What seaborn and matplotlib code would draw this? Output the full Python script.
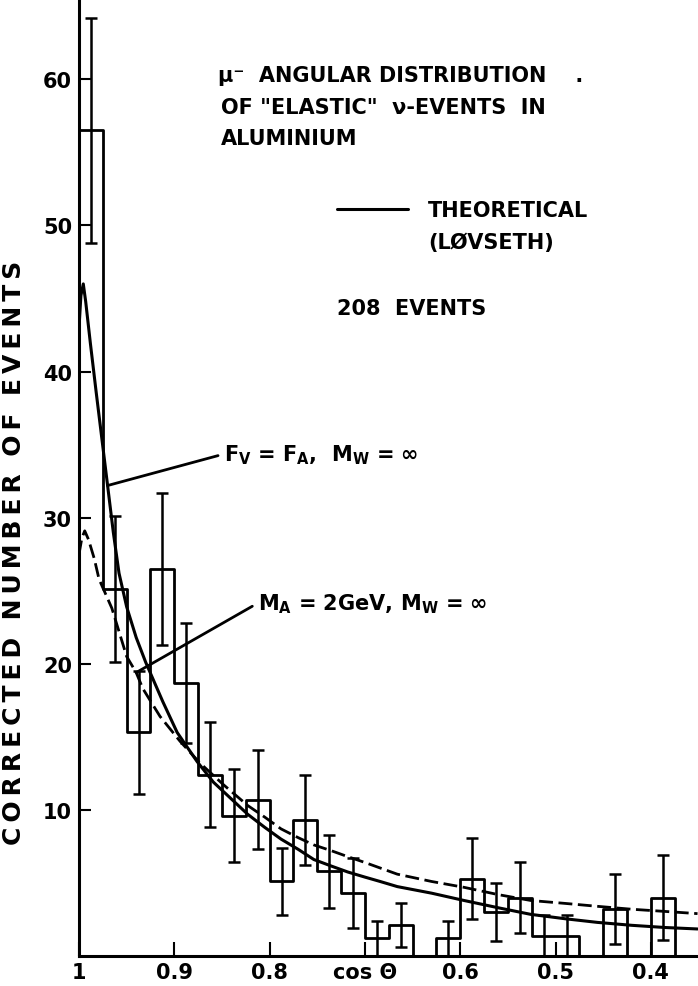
import numpy as np
import pandas as pd
import matplotlib
matplotlib.use("Agg")
import matplotlib.pyplot as plt
from matplotlib.lines import Line2D
import seaborn as sns

# histogram: 0.025 wide bins in cos(theta), listed from cos = 1 downwards
bin_width = 0.025
counts = [56.5, 25.1, 15.3, 26.5, 18.7, 12.4, 9.6, 10.7, 5.1, 9.3, 5.8, 4.3, 1.2,
          2.1, 0.0, 1.2, 5.3, 3.0, 4.0, 1.4, 1.4, 0.0, 3.2, 0.0, 4.0, 0.0]
errors = [7.7, 5.0, 4.2, 5.2, 4.1, 3.6, 3.2, 3.4, 2.3, 3.1, 2.5, 2.4, 1.2,
          1.5, 0.0, 1.2, 2.8, 2.0, 2.4, 1.4, 1.4, 0.0, 2.4, 0.0, 2.9, 0.0]

# theoretical curves
solid_cos = [1.0, 0.998, 0.9955, 0.993, 0.988, 0.982, 0.976, 0.970, 0.964, 0.958,
             0.950, 0.940, 0.930, 0.912, 0.897, 0.876, 0.859, 0.841, 0.823, 0.805,
             0.788, 0.770, 0.7535, 0.735, 0.718, 0.700, 0.684, 0.666, 0.63, 0.596,
             0.56, 0.526, 0.49, 0.456, 0.42, 0.385, 0.351]
solid_val = [43.0, 45.2, 46.0, 44.8, 41.9, 38.6, 35.4, 32.2, 29.0, 26.2,
             23.9, 21.8, 20.1, 17.4, 15.3, 13.3, 11.9, 10.8, 9.7, 8.8,
             8.0, 7.3, 6.6, 6.15, 5.75, 5.4, 5.1, 4.75, 4.3, 3.8,
             3.3, 2.85, 2.55, 2.3, 2.1, 1.95, 1.85]

dash_cos = [1.0, 0.997, 0.994, 0.990, 0.984, 0.979, 0.9655, 0.950, 0.940, 0.933,
            0.915, 0.894, 0.873, 0.848, 0.823, 0.805, 0.788, 0.770, 0.7535, 0.735,
            0.718, 0.700, 0.683, 0.666, 0.63, 0.596, 0.56, 0.526, 0.49, 0.456,
            0.42, 0.385, 0.351]
dash_val = [27.5, 28.6, 29.1, 28.5, 27.2, 25.8, 23.8, 20.5, 19.4, 18.3,
            16.4, 14.7, 13.2, 11.7, 10.3, 9.5, 8.7, 8.1, 7.6, 7.2,
            6.8, 6.4, 6.0, 5.6, 5.1, 4.7, 4.2, 3.8, 3.6, 3.4,
            3.2, 3.05, 2.9]

x_ticks = [1.0, 0.9, 0.8, 0.7, 0.6, 0.5, 0.4]
x_labels = ["1", "0.9", "0.8", "cos Θ", "0.6", "0.5", "0.4"]
y_ticks = [10, 20, 30, 40, 50, 60]

# build bins
n_bins = len(counts)
bin_hi = 1.0 - bin_width * np.arange(n_bins)
centers = bin_hi - bin_width / 2
edges = np.round(np.sort(np.append(bin_hi, bin_hi[-1] - bin_width)), 4).tolist()
df = pd.DataFrame({"cos": centers, "n": counts, "err": errors})

sns.set_style("ticks")
plt.rcParams["font.family"] = ["DejaVu Sans"]
plt.rcParams["font.weight"] = "bold"
plt.rcParams["mathtext.fontset"] = "dejavusans"
for key in ["text.color", "axes.labelcolor", "xtick.color", "ytick.color", "axes.edgecolor"]:
    plt.rcParams[key] = "black"

fig = plt.figure(figsize=(6.98, 9.87), dpi=100)
fig.patch.set_facecolor("white")
ax = fig.add_axes([79 / 698, 30 / 987, 1 - 79 / 698, 957 / 987])

sns.histplot(data=df, x="cos", weights="n", bins=edges, element="step",
             fill=False, color="black", linewidth=2.0, ax=ax)

eb = df[df["err"] > 0]
ax.errorbar(eb["cos"], eb["n"], yerr=eb["err"], fmt="none", ecolor="black",
            elinewidth=1.8, capsize=4, capthick=1.8)

sns.lineplot(x=solid_cos, y=solid_val, color="black", linewidth=2.2,
             sort=False, estimator=None, ax=ax)
sns.lineplot(x=dash_cos, y=dash_val, color="black", linewidth=2.0,
             linestyle=(0, (5, 2)), sort=False, estimator=None, ax=ax)

ax.set_xlim(1.0, 0.3505)
ax.set_ylim(0, 65.5)
ax.set_xticks(x_ticks)
ax.set_xticklabels(x_labels)
ax.set_yticks(y_ticks)
ax.set_yticklabels([str(v) for v in y_ticks])
ax.tick_params(axis="y", direction="in", length=8.5, width=1.5, labelsize=15, pad=5)
ax.tick_params(axis="x", direction="in", length=10, width=1.5, labelsize=15, pad=4)
for s in ["top", "right"]:
    ax.spines[s].set_visible(False)
for s in ["left", "bottom"]:
    ax.spines[s].set_linewidth(2.2)
ax.set_xlabel("")
thin = "\u2009"
ylab = "  ".join(thin.join(w) for w in ["CORRECTED", "NUMBER", "OF", "EVENTS"])
ax.set_ylabel(ylab, fontsize=18, fontweight="bold")
ax.yaxis.set_label_coords((26 - 79) / 619, (957 - 553) / 957)

# texts
txt = dict(fontsize=15, fontweight="bold", ha="left", va="center")
fig.text(218 / 698, 1 - 76 / 987, "μ⁻  ANGULAR DISTRIBUTION    .", **txt)
fig.text(221 / 698, 1 - 108 / 987, "OF \"ELASTIC\"  ν-EVENTS  IN", **txt)
fig.text(221 / 698, 1 - 139 / 987, "ALUMINIUM", **txt)
fig.text(428 / 698, 1 - 243 / 987, "(LØVSETH)", **txt)
fig.text(337 / 698, 1 - 309 / 987, "208  EVENTS", **txt)

ax.legend(handles=[Line2D([], [], color="black", lw=2.2)], labels=["THEORETICAL"],
          loc="center left", bbox_to_anchor=(337 / 698, 1 - 211 / 987),
          bbox_transform=fig.transFigure, frameon=False, fontsize=15,
          handlelength=3.4, handletextpad=0.95, borderpad=0, borderaxespad=0)

leader = dict(arrowstyle="-", lw=2.0, color="black", shrinkA=2, shrinkB=0,
              relpos=(0, 0.5))
ax.annotate(r"F$_\mathbf{V}$ = F$_\mathbf{A}$,  M$_\mathbf{W}$ = ∞",
            xy=(solid_cos[7], solid_val[7]), xycoords="data",
            xytext=(224 / 698, 1 - 455 / 987), textcoords="figure fraction",
            arrowprops=leader, **txt)
ax.annotate(r"M$_\mathbf{A}$ = 2GeV, M$_\mathbf{W}$ = ∞",
            xy=(dash_cos[8], dash_val[8]), xycoords="data",
            xytext=(258 / 698, 1 - 604 / 987), textcoords="figure fraction",
            arrowprops=leader, **txt)

fig.savefig("out.png", dpi=100, facecolor="white")
